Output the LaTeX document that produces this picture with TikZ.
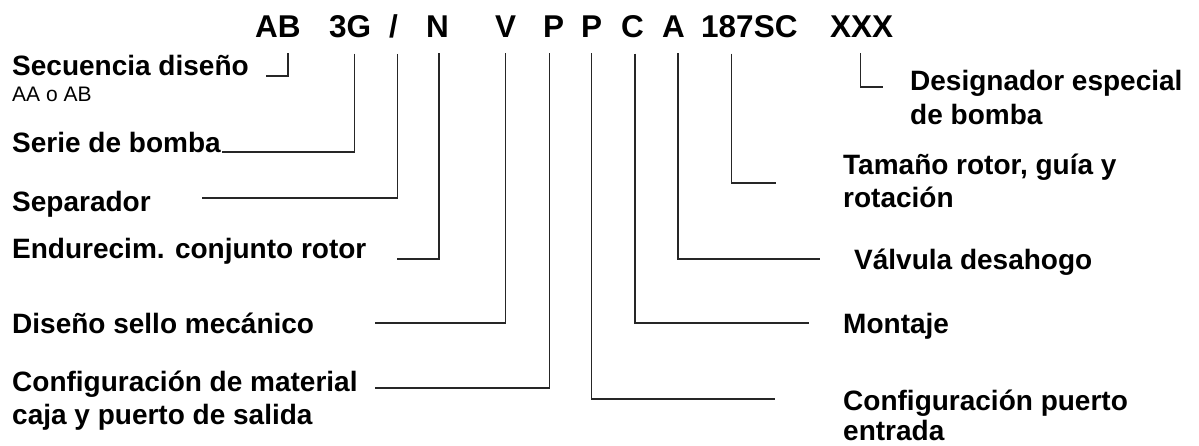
\documentclass[tikz,border=0pt]{standalone}
\usepackage{fontspec}
\setmainfont{Liberation Sans}
\definecolor{kLine}{rgb}{0.15,0.15,0.15}
\tikzset{
  code/.style={anchor=base west,inner sep=0pt,font=\bfseries\fontsize{31.5}{36}\selectfont},
  tag/.style={anchor=base west,inner sep=0pt,font=\bfseries\fontsize{28}{33}\selectfont},
  note/.style={anchor=base west,inner sep=0pt,font=\fontsize{21}{24}\selectfont},
  lead/.style={line width=1.3pt,color=kLine}
}
\begin{document}
\begin{tikzpicture}[x=1pt,y=-1pt]
  \useasboundingbox (0,0) rectangle (1199,446);

  % model code
  \node[code] (cAB)  at (255,38) {AB};
  \node[code] (c3G)  at (329,38) {3G};
  \node[code] (cSl)  at (389,38) {/};
  \node[code] (cN)   at (426,38) {N};
  \node[code] (cV)   at (495,38) {V};
  \node[code] (cP)   at (543,38) {P};
  \node[code] (cPP)  at (581,38) {P};
  \node[code] (cC)   at (621,38) {C};
  \node[code] (cA)   at (662,38) {A};
  \node[code] (cRot) at (701,38) {187SC};
  \node[code] (cX)   at (830,38) {XXX};

  % left labels
  \node[tag]  (lSec)    at (12,76)  {Secuencia diseño};
  \node[note] (lSecB)   at (12,102) {AA o AB};
  \node[tag]  (lSerie)  at (12,153) {Serie de bomba};
  \node[tag]  (lSep)    at (12,212) {Separador};
  \node[tag]  (lEnd)    at (12,259) {Endurecim. conjunto rotor};
  \node[tag]  (lDis)    at (12,334) {Diseño sello mecánico};
  \node[tag]  (lCfgM)   at (12,391) {Configuración de material};
  \node[tag]  (lCfgMB)  at (12,424) {caja y puerto de salida};

  % right labels
  \node[tag]  (lDes)    at (910,91)  {Designador especial};
  \node[tag]  (lDesB)   at (910,125) {de bomba};
  \node[tag]  (lTam)    at (843,175) {Tamaño rotor, guía y};
  \node[tag]  (lTamB)   at (843,208) {rotación};
  \node[tag]  (lVal)    at (854,270) {Válvula desahogo};
  \node[tag]  (lMon)    at (843,334) {Montaje};
  \node[tag]  (lCfgP)   at (843,410) {Configuración puerto};
  \node[tag]  (lCfgPB)  at (843,440) {entrada};

  % leader ends
  \coordinate (eSec)   at (266,76);
  \coordinate (eSerie) at (222,152);
  \coordinate (eSep)   at (202,198);
  \coordinate (eEnd)   at (397,259);
  \coordinate (eDis)   at (375,323);
  \coordinate (eCfgM)  at (375,388);
  \coordinate (eCfgP)  at (775,399);
  \coordinate (eMon)   at (809,323);
  \coordinate (eVal)   at (820,259);
  \coordinate (eTam)   at (776,183);
  \coordinate (eDes)   at (883,87);

  \draw[lead] ([xshift=10pt,yshift=-15pt]cAB.south) |- (eSec);
  \draw[lead] ([xshift=4pt,yshift=-15pt]c3G.south) |- (eSerie);
  \draw[lead] ([xshift=4pt,yshift=-15pt]cSl.south) |- (eSep);
  \draw[lead] ([xshift=1.5pt,yshift=-15pt]cN.south) |- (eEnd);
  \draw[lead] ([yshift=-15pt]cV.south) |- (eDis);
  \draw[lead] ([xshift=-4.5pt,yshift=-15pt]cP.south) |- (eCfgM);
  \draw[lead] ([yshift=-15pt]cPP.south) |- (eCfgP);
  \draw[lead] ([xshift=2.5pt,yshift=-15pt]cC.south) |- (eMon);
  \draw[lead] ([xshift=4.5pt,yshift=-15pt]cA.south) |- (eVal);
  \draw[lead] ([xshift=-18pt,yshift=-15pt]cRot.south) |- (eTam);
  \draw[lead] ([xshift=-1.5pt,yshift=-15pt]cX.south) |- (eDes);

\end{tikzpicture}
\end{document}
